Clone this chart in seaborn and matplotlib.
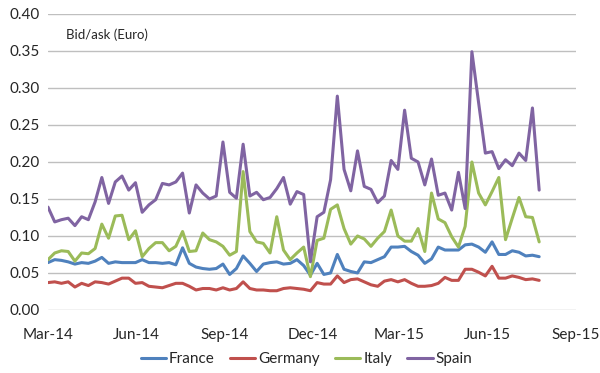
import pandas as pd
import seaborn as sns
import matplotlib.pyplot as plt
import matplotlib.dates as mdates
from matplotlib.ticker import FormatStrFormatter

# weekly bid/ask spreads
dates = pd.date_range('2014-03-01', periods=74, freq='7D')

france = [0.064, 0.068, 0.067, 0.065, 0.062, 0.064, 0.063, 0.066, 0.071, 0.063,
          0.065, 0.064, 0.064, 0.064, 0.068, 0.064, 0.064, 0.063, 0.064, 0.061,
          0.084, 0.063, 0.058, 0.056, 0.055, 0.056, 0.062, 0.048, 0.056, 0.073,
          0.063, 0.052, 0.062, 0.064, 0.065, 0.062, 0.063, 0.068, 0.060, 0.047,
          0.063, 0.048, 0.050, 0.075, 0.055, 0.052, 0.050, 0.065, 0.064, 0.068,
          0.072, 0.085, 0.085, 0.086, 0.079, 0.074, 0.063, 0.069, 0.085, 0.081,
          0.081, 0.081, 0.088, 0.089, 0.085, 0.078, 0.092, 0.075, 0.075, 0.080,
          0.078, 0.073, 0.074, 0.072]

germany = [0.037, 0.038, 0.036, 0.038, 0.031, 0.036, 0.033, 0.038, 0.037, 0.035,
           0.039, 0.043, 0.043, 0.036, 0.037, 0.032, 0.031, 0.030, 0.033, 0.036,
           0.036, 0.032, 0.027, 0.029, 0.029, 0.027, 0.030, 0.027, 0.029, 0.038,
           0.029, 0.027, 0.027, 0.026, 0.026, 0.029, 0.030, 0.029, 0.028, 0.026,
           0.037, 0.035, 0.035, 0.046, 0.037, 0.041, 0.042, 0.038, 0.034, 0.032,
           0.039, 0.041, 0.038, 0.041, 0.036, 0.032, 0.032, 0.033, 0.036, 0.044,
           0.040, 0.040, 0.055, 0.055, 0.051, 0.046, 0.059, 0.043, 0.043, 0.046,
           0.044, 0.041, 0.042, 0.040]

italy = [0.068, 0.077, 0.080, 0.079, 0.066, 0.077, 0.076, 0.083, 0.116, 0.097,
         0.127, 0.128, 0.095, 0.107, 0.072, 0.083, 0.091, 0.091, 0.080, 0.086,
         0.106, 0.079, 0.080, 0.104, 0.095, 0.092, 0.086, 0.074, 0.079, 0.187,
         0.106, 0.092, 0.090, 0.077, 0.126, 0.081, 0.068, 0.077, 0.085, 0.045,
         0.094, 0.097, 0.136, 0.142, 0.110, 0.089, 0.100, 0.096, 0.086, 0.097,
         0.106, 0.135, 0.100, 0.093, 0.093, 0.110, 0.079, 0.158, 0.123, 0.118,
         0.099, 0.085, 0.113, 0.200, 0.158, 0.142, 0.160, 0.179, 0.095, 0.124,
         0.152, 0.126, 0.125, 0.092]

spain = [0.139, 0.119, 0.122, 0.124, 0.114, 0.126, 0.122, 0.146, 0.179, 0.144,
         0.173, 0.181, 0.162, 0.172, 0.132, 0.142, 0.149, 0.171, 0.169, 0.173,
         0.185, 0.131, 0.169, 0.158, 0.150, 0.154, 0.227, 0.159, 0.151, 0.224,
         0.154, 0.159, 0.149, 0.152, 0.164, 0.179, 0.143, 0.160, 0.156, 0.065,
         0.126, 0.132, 0.176, 0.289, 0.190, 0.161, 0.215, 0.167, 0.163, 0.145,
         0.154, 0.202, 0.190, 0.270, 0.205, 0.200, 0.169, 0.204, 0.155, 0.158,
         0.135, 0.186, 0.137, 0.349, 0.280, 0.212, 0.214, 0.191, 0.203, 0.195,
         0.212, 0.202, 0.273, 0.162]

countries = ['France', 'Germany', 'Italy', 'Spain']
colors = ['#4F81BD', '#C0504D', '#9BBB59', '#8064A2']

df = pd.DataFrame({'Date': dates, 'France': france, 'Germany': germany,
                   'Italy': italy, 'Spain': spain})
long_df = df.melt(id_vars='Date', var_name='Country', value_name='BidAsk')

sns.set_style('white')
plt.rcParams['font.family'] = ['Lato', 'DejaVu Sans']

fig = plt.figure(figsize=(6, 3.73), dpi=100)
ax = fig.add_axes([0.08, 0.169, 0.8795, 0.7935])

sns.lineplot(data=long_df, x='Date', y='BidAsk', hue='Country', hue_order=countries,
             palette=dict(zip(countries, colors)), linewidth=2.2, ax=ax)

ax.set_ylim(0, 0.40)
ax.set_yticks([i * 0.05 for i in range(9)])
ax.yaxis.set_major_formatter(FormatStrFormatter('%.2f'))
ax.set_xlim(pd.Timestamp('2014-03-01'), pd.Timestamp('2015-09-01'))
ax.xaxis.set_major_locator(mdates.MonthLocator(bymonth=[3, 6, 9, 12]))
ax.xaxis.set_major_formatter(mdates.DateFormatter('%b-%y'))
ax.grid(axis='y', color='#BFBFBF', linewidth=1)
ax.set_axisbelow(True)
for s in ax.spines.values():
    s.set_visible(False)
ax.tick_params(axis='both', length=0, labelsize=11, colors='#262626')
ax.tick_params(axis='y', pad=6)
ax.tick_params(axis='x', pad=13)
ax.set_xlabel('')
ax.set_ylabel('')

ax.text(0.034, 0.93, 'Bid/ask (Euro)', transform=ax.transAxes, fontsize=9.5,
        color='#262626', va='center')

ax.legend(loc='center', bbox_to_anchor=(0.49, -0.166), ncol=4, frameon=False,
          fontsize=11, handlelength=1.65, handletextpad=0.2, columnspacing=1.0,
          labelcolor='#262626')

fig.savefig('out.png', dpi=100)
